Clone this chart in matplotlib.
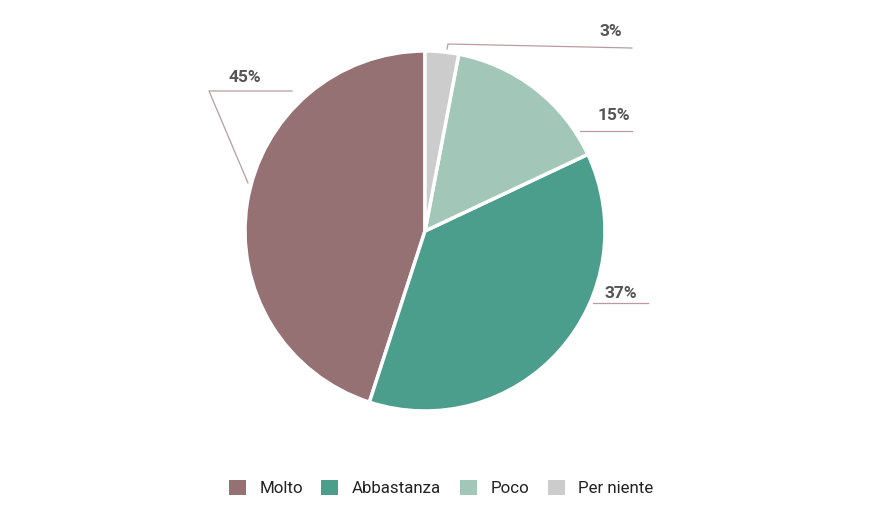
import matplotlib.pyplot as plt
from matplotlib.patches import Patch

categories = ['Molto', 'Abbastanza', 'Poco', 'Per niente']
values = [45, 37, 15, 3]
labels = ['45%', '37%', '15%', '3%']
colors = ['#957174', '#4b9d8c', '#a2c7b9', '#cccccc']

W, H = 879, 513
fig = plt.figure(figsize=(W / 100, H / 100), dpi=100)
ax = fig.add_axes([0, 0, 1, 1])

# pie in pixel coordinates (y up)
cx, cy, r = 425, H - 231, 180
ax.pie(values, colors=colors, startangle=90, counterclock=True,
       center=(cx, cy), radius=r, frame=True,
       wedgeprops=dict(edgecolor='white', linewidth=2.5))
ax.set_xlim(0, W)
ax.set_ylim(0, H)
ax.axis('off')

# leader lines and label positions (pixels, y down)
leaders = [
    [(248, 183), (209, 91), (292, 91)],
    [(593, 303), (648, 303)],
    [(580, 131), (632, 131)],
    [(447, 49), (448, 44), (632, 48)],
]
label_pos = [(245, 78), (621, 294), (614, 116), (611, 32)]
line_col = '#b89ca1'
for pts, lab, (lx, ly) in zip(leaders, labels, label_pos):
    xs = [p[0] for p in pts]
    ys = [H - p[1] for p in pts]
    ax.plot(xs, ys, color=line_col, lw=0.9)
    ax.text(lx, H - ly, lab, ha='center', va='center', fontsize=12.5,
            fontweight='bold', color='#555555', family='Roboto')

handles = [Patch(facecolor=c, edgecolor='none') for c in colors]
fig.legend(handles, categories, loc='center', bbox_to_anchor=(441 / W, 1 - 488 / H),
           ncol=4, frameon=False, handlelength=1.0, handleheight=1.0,
           handletextpad=0.8, columnspacing=1.1, prop={'family': 'Roboto', 'size': 12.2},
           labelcolor='#222222')

fig.savefig('out.png', dpi=100)
